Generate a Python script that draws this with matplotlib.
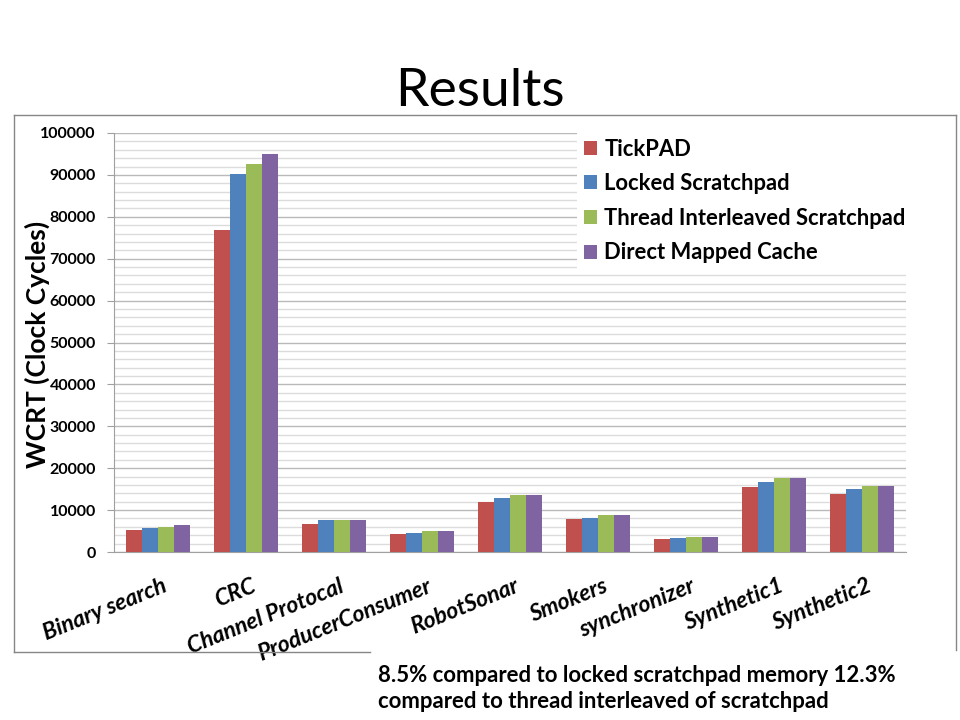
import matplotlib
matplotlib.use("Agg")
import matplotlib.pyplot as plt
import numpy as np
from matplotlib.lines import Line2D

categories = ["Binary search", "CRC", "Channel Protocal", "ProducerConsumer", "RobotSonar",
              "Smokers", "synchronizer", "Synthetic1", "Synthetic2"]
series_names = ["TickPAD", "Locked Scratchpad", "Thread Interleaved Scratchpad", "Direct Mapped Cache"]
tickpad = [5250, 76800, 6700, 4400, 12000, 7800, 3200, 15500, 13800]
locked = [5700, 90100, 7600, 4600, 13000, 8200, 3400, 16800, 15000]
thread_il = [6000, 92700, 7600, 5100, 13500, 8750, 3600, 17600, 15700]
direct = [6400, 95000, 7600, 5100, 13500, 8750, 3600, 17600, 15700]
yticks = [0, 10000, 20000, 30000, 40000, 50000, 60000, 70000, 80000, 90000, 100000]
title = "Results"
ylabel = "WCRT (Clock Cycles)"
note_lines = ["8.5% compared to locked scratchpad memory 12.3%",
              "compared to thread interleaved of scratchpad"]

colors = ["#C0504D", "#4F81BD", "#9BBB59", "#8064A2"]
FONT = ["Lato", "DejaVu Sans"]
plt.rcParams["font.family"] = FONT

W, H = 960, 720
fig = plt.figure(figsize=(9.6, 7.2), dpi=100)
ax = fig.add_axes([114 / W, 1 - 552 / H, (906 - 114) / W, (552 - 133) / H])

data = [tickpad, locked, thread_il, direct]
x = np.arange(len(categories))
bw = 0.182
for i, (vals, c, name) in enumerate(zip(data, colors, series_names)):
    ax.bar(x + (i - 1.5) * bw, vals, width=bw, color=c, label=name, zorder=3, linewidth=0)

ax.set_xlim(-0.5, len(categories) - 0.5)
ax.set_ylim(0, 100000)
ax.set_yticks(yticks)
ax.set_yticklabels([str(v) for v in yticks], fontsize=11.5, fontweight="bold")
ax.set_yticks(np.arange(0, 100001, 2000), minor=True)
ax.yaxis.grid(True, which="major", color="#b9b9b9", linewidth=1.0, zorder=0)
ax.yaxis.grid(True, which="minor", color="#dcdcdc", linewidth=1.0, zorder=0)
ax.tick_params(axis="y", which="major", length=5, color="#a0a0a0", pad=8)
ax.tick_params(axis="y", which="minor", length=0)
ax.set_xticks(x)
ax.set_xticklabels([])
ax.tick_params(axis="x", length=0)
for s in ["top", "right"]:
    ax.spines[s].set_visible(False)
for s in ["left", "bottom"]:
    ax.spines[s].set_color("#a0a0a0")

for xi, lab in zip(x, categories):
    ax.annotate(lab, xy=(xi + 0.05, 0), xycoords="data", xytext=(0, -17), textcoords="offset points",
                ha="right", va="top", rotation=22, rotation_mode="anchor",
                fontsize=16.5, fontweight="bold", fontstyle="italic", annotation_clip=False)

leg = ax.legend(loc="upper left", bbox_to_anchor=(577 / W, 1 - 273 / H, (906 - 577) / W, (273 - 132) / H),
                bbox_transform=fig.transFigure, mode="expand", frameon=True, facecolor="white",
                edgecolor="none", framealpha=1, fancybox=False, handlelength=0.6, handleheight=0.6,
                handletextpad=0.35, labelspacing=0.62, borderpad=0.3, borderaxespad=0,
                prop={"family": FONT, "weight": "bold", "size": 15.8})
leg.set_zorder(5)

fig.text(480 / W, 1 - 92 / H, title, ha="center", va="center", fontsize=38.5)
fig.text(37 / W, 1 - 344 / H, ylabel, ha="center", va="center", rotation=90,
         fontsize=19, fontweight="bold")

# chart frame
fc = "#868686"
fig.add_artist(Line2D([14 / W, 956 / W], [1 - 115 / H, 1 - 115 / H], color=fc, lw=1))
fig.add_artist(Line2D([14 / W, 14 / W], [1 - 115 / H, 1 - 652 / H], color=fc, lw=1))
fig.add_artist(Line2D([956 / W, 956 / W], [1 - 115 / H, 1 - 650 / H], color=fc, lw=1))
fig.add_artist(Line2D([14 / W, 370 / W], [1 - 652 / H, 1 - 652 / H], color=fc, lw=1))

fig.text(378 / W, 1 - 675 / H, note_lines[0], ha="left", va="center", fontsize=15.9, fontweight="bold")
fig.text(378 / W, 1 - 701 / H, note_lines[1], ha="left", va="center", fontsize=15.9, fontweight="bold")

fig.savefig("out.png", dpi=100, facecolor="white")
